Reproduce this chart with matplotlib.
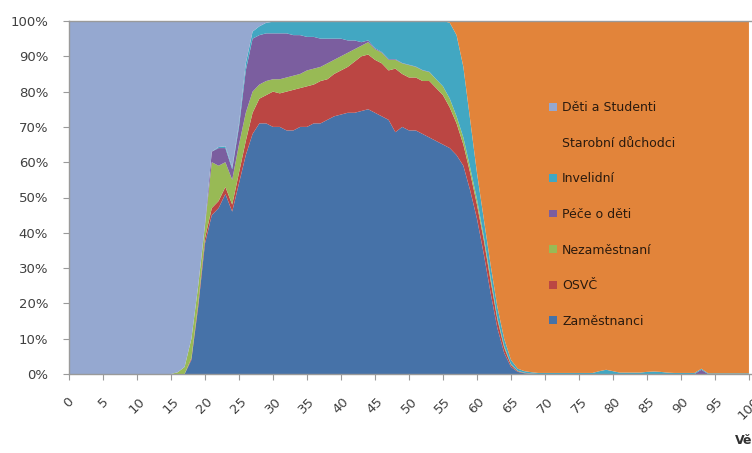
import numpy as np
import matplotlib
matplotlib.use("Agg")
import matplotlib.pyplot as plt

ages = list(range(0, 101))

# Per-age shares (%)
zamestnanci = ([0]*16 +
    [0, 0, 4, 19, 37, 45, 47, 51, 46, 54, 62, 68, 71, 71, 70, 70, 69, 69, 70, 70,
     71, 71, 72, 73, 73.5, 74, 74, 74.5, 75, 74, 73, 72, 68.5, 70, 69, 69, 68, 67,
     66, 65, 64, 62, 59, 52, 44, 34, 23, 13, 6, 2, 0.6, 0.2, 0] + [0]*32)
osvc = ([0]*16 +
    [0, 0, 0.5, 1, 1.5, 2, 2, 2, 2, 3, 4, 6, 7, 8, 10, 9.5, 11, 11.5, 11, 11.5,
     11, 12, 11.5, 12, 12.5, 13, 14.5, 15.5, 15.5, 15, 15, 14, 18, 15, 15, 15, 15, 16,
     15, 14, 11.5, 9, 6, 5, 4, 4, 3.5, 2.5, 1.5, 0.6, 0.2, 0.1, 0.1] + [0]*32)
nezamestnani = ([0]*16 +
    [0.5, 2, 5.5, 5, 3.5, 13, 10, 7, 7, 8, 8, 6, 4, 4, 3.5, 4, 4, 4, 4, 4.5,
     4.5, 4, 4.5, 4, 4, 4, 3.5, 3, 3.5, 3, 3, 3, 2.5, 3, 3.5, 3, 3, 2.5,
     2.5, 2.5, 2.5, 2, 2, 1.5, 1.5, 1, 1, 0.5, 0.5, 0.2, 0.1, 0.05, 0] + [0]*32)
pece_o_deti = ([0]*16 +
    [0, 0, 0, 0, 0.5, 3, 5, 4, 3, 5, 12, 15, 14, 13.5, 13, 13, 12.5, 11.5, 11, 9.5,
     9, 8, 7, 6, 5, 3.5, 2.5, 1, 0.5, 0.3, 0.2, 0.2, 0.2, 0.1, 0.1, 0.1, 0.1, 0.1,
     0, 0, 0, 0, 0, 0, 0, 0, 0, 0, 0, 0, 0, 0, 0] +
    [0]*24 + [1.2] + [0]*7)
invalidni = ([0]*16 +
    [0, 0, 0, 0, 0, 0, 0.3, 0.5, 0.5, 1, 2, 2, 2.5, 3, 3.3, 3.4, 3.5, 4, 4, 4.5,
     4.5, 5, 5, 5, 5, 5.5, 5.5, 6, 5.5, 7.7, 8.8, 10.8, 10.8, 11.9, 12.4, 12.9, 13.9, 14.4,
     16.5, 18.5, 21.5, 23, 20, 13.5, 7.5, 5, 3.5, 3, 2, 1.2, 0.6, 0.45, 0.4] +
    [0.3]*9 + [0.8, 1.2, 0.8, 0.4, 0.4, 0.4, 0.4, 0.6, 0.7, 0.6, 0.4, 0.3, 0.3, 0.3,
     0.3, 0.3] + [0.2]*7)
deti_studenti = ([100]*16 +
    [99.5, 98, 90, 75, 57.5, 37, 35.7, 35.5, 41.5, 29, 12, 3, 1.5, 0.5, 0.2, 0.1] +
    [0]*69)

series = [zamestnanci, osvc, nezamestnani, pece_o_deti, invalidni]
labels = ["Zaměstnanci", "OSVČ", "Nezaměstnaní", "Péče o děti", "Invelidní",
          "Starobní důchodci", "Děti a Studenti"]
colors = ["#4672A8", "#BB4643", "#98BA55", "#7B5E9F", "#42A7C2", "#E2843A", "#95A8D0"]

arr = np.array(series, dtype=float)
deti = np.array(deti_studenti, dtype=float)
starobni = np.clip(100 - arr.sum(axis=0) - deti, 0, None)
stack = np.vstack([arr, starobni, deti])
stack = stack / stack.sum(axis=0) * 100

fig = plt.figure(figsize=(7.52, 4.53), dpi=100)
ax = fig.add_axes([69/752, 1-374/453, (752-69)/752, (374-21)/453])
polys = ax.stackplot(ages, stack, colors=colors, labels=labels, linewidth=0)
ax.set_xlim(0, 100.45)
ax.set_ylim(0, 100)

ax.set_xticks(range(0, 101, 5))
ax.set_xticklabels([str(v) for v in range(0, 101, 5)], rotation=45, ha="center", va="top")
ax.set_yticks(range(0, 101, 10))
ax.set_yticklabels([f"{v}%" for v in range(0, 101, 10)])
ax.tick_params(axis="x", length=4, color="#9a9a9a", pad=11, labelsize=9.5, labelcolor="#404040")
ax.tick_params(axis="y", length=4, color="#9a9a9a", pad=11, labelsize=9.5, labelcolor="#404040")
for s in ["left", "bottom", "top"]:
    ax.spines[s].set_color("#9a9a9a")
    ax.spines[s].set_linewidth(1)
ax.spines["right"].set_visible(False)

handles = polys[::-1]
leg = ax.legend(handles, labels[::-1], loc="upper left",
                bbox_to_anchor=(549/752, 1-101/453), bbox_transform=fig.transFigure,
                frameon=False, fontsize=9, handlelength=0.6, handleheight=0.6,
                handletextpad=0.45, labelspacing=1.81, borderpad=0, borderaxespad=0)
for t in leg.get_texts():
    t.set_color("#2a1a0e")

fig.text(735/752, 1-441/453, "Věk", fontsize=9, fontweight="bold", ha="left", va="center",
         color="#303030")

fig.savefig("out.png", dpi=100)
